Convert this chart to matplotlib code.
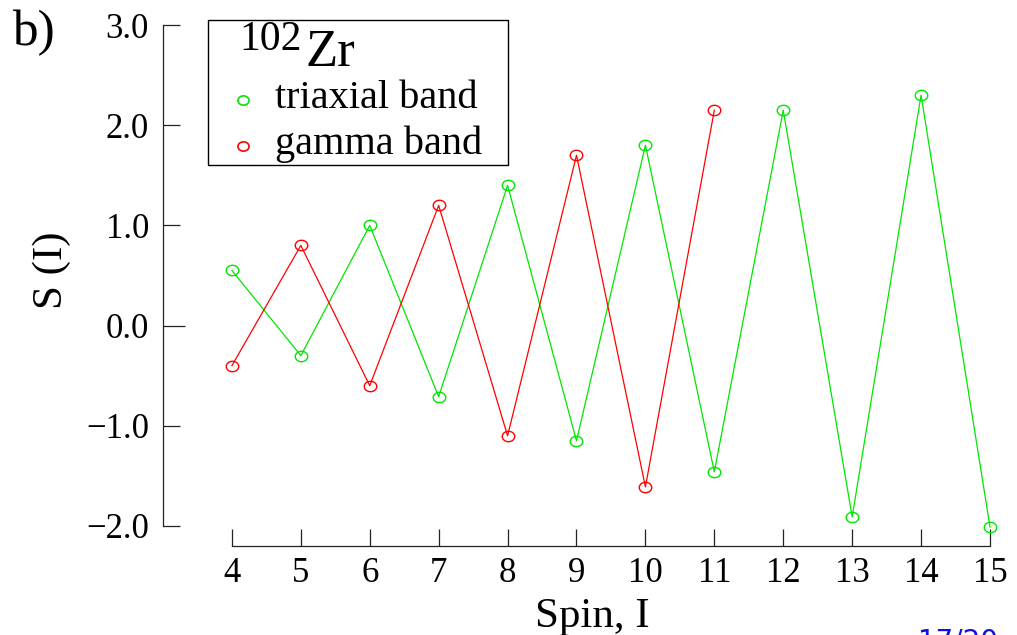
import matplotlib.pyplot as plt
from matplotlib.lines import Line2D
from matplotlib.patches import Rectangle
from matplotlib.path import Path
from matplotlib.transforms import Affine2D
import numpy as np

plt.rcParams["font.family"] = ["Liberation Serif", "DejaVu Serif"]

# staggering S(I) for the two bands of 102Zr
spin_tri = [4, 5, 6, 7, 8, 9, 10, 11, 12, 13, 14, 15]
s_tri = [0.55, -0.30, 1.00, -0.71, 1.40, -1.15, 1.80, -1.46, 2.15, -1.91, 2.30, -2.01]
spin_gam = [4, 5, 6, 7, 8, 9, 10, 11]
s_gam = [-0.40, 0.80, -0.60, 1.20, -1.10, 1.70, -1.61, 2.15]
y_ticks = [-2, -1, 0, 1, 2, 3]
x_ticks = list(range(4, 16))

green = "#00e600"
red = "#ff0000"

W, H = 1017, 635
fig = plt.figure(figsize=(W / 100, H / 100), dpi=100)
ax = fig.add_axes([163 / W, 1 - 546 / H, 827 / W, 521 / H])


def px(x, y):
    return x / W, 1 - y / H


# slightly wide open circle
oval = Path.unit_circle().transformed(Affine2D().scale(1.2, 1.0))

ax.plot(spin_tri, s_tri, color=green, lw=0.9, marker=oval, ms=9,
        mfc="none", mec=green, mew=1.0, clip_on=False)
ax.plot(spin_gam, s_gam, color=red, lw=0.9, marker=oval, ms=9,
        mfc="none", mec=red, mew=1.0, clip_on=False)

ax.set_xlim(3, 15)
ax.set_ylim(-2.2, 3.0)
ax.set_xticks(x_ticks)
ax.set_yticks(y_ticks)
ax.set_yticklabels([f"{v:.1f}".replace("-", "\u2212") for v in y_ticks])

for side in ["top", "right"]:
    ax.spines[side].set_visible(False)
ax.spines["left"].set_bounds(-2, 3)
ax.spines["bottom"].set_bounds(4, 15)
for side in ["left", "bottom"]:
    ax.spines[side].set_linewidth(0.9)
    ax.spines[side].set_color("#222222")

ax.tick_params(axis="both", direction="in", length=12, width=0.9,
               color="#222222", labelsize=25)
ax.tick_params(axis="y", pad=10)
ax.tick_params(axis="x", pad=8)
# the zero tick is a bit longer
ax.yaxis.get_major_ticks()[y_ticks.index(0)].tick1line.set_markersize(16)

ax.set_xlabel("Spin, I", fontsize=31, va="baseline")
ax.xaxis.set_label_coords((592 - 163) / 827, (546 - 627) / 521)
ax.set_ylabel("S (I)", fontsize=31, va="center")
ax.yaxis.set_label_coords((52 - 163) / 827, (546 - 270) / 521)

# legend box with nucleus name
fig.add_artist(Rectangle(px(208, 165), 300 / W, 145 / H,
                         transform=fig.transFigure, facecolor="white",
                         edgecolor="black", lw=1.0))
fig.text(*px(239, 50), "102", fontsize=30, va="baseline", ha="left")
fig.text(*px(305, 66), "Zr", fontsize=38, va="baseline", ha="left")
for y, col, lab in [(100, green, "triaxial band"), (146, red, "gamma band")]:
    fig.add_artist(Line2D([px(243, y)[0]], [px(243, y)[1]],
                          transform=fig.transFigure, ls="none", marker=oval,
                          ms=8, mfc="none", mec=col, mew=1.2))
    fig.text(*px(275, y + 8), lab, fontsize=29, va="baseline", ha="left")

fig.text(*px(12, 45), "b)", fontsize=37, va="baseline", ha="left")
fig.text(*px(918, 627), "17/20", fontsize=20, color="#1010e0",
         fontfamily="DejaVu Sans", va="top", ha="left")

fig.savefig("out.png", dpi=100, facecolor="white")
